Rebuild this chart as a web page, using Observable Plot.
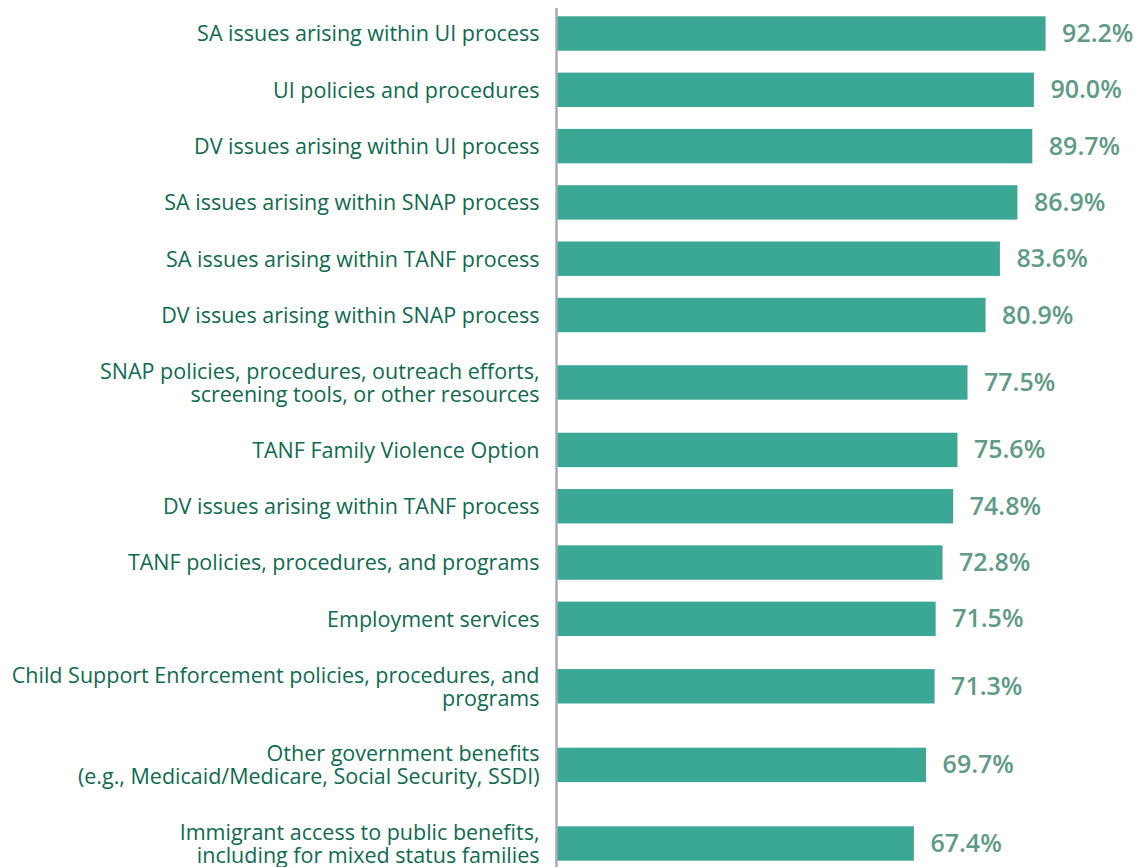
<!DOCTYPE html>
<html>
<head>
<meta charset="utf-8">
<script src="https://cdn.jsdelivr.net/npm/d3@7"></script>
<script src="https://cdn.jsdelivr.net/npm/@observablehq/plot@0.6"></script>
<style>
  html, body { margin: 0; padding: 0; background: #fff; }
  #chart { width: 1143px; height: 867px; }
</style>
</head>
<body>
<div id="chart"></div>
<script>
const categories = [
  "SA issues arising within UI process",
  "UI policies and procedures",
  "DV issues arising within UI process",
  "SA issues arising within SNAP process",
  "SA issues arising within TANF process",
  "DV issues arising within SNAP process",
  "SNAP policies, procedures, outreach efforts,\nscreening tools, or other resources",
  "TANF Family Violence Option",
  "DV issues arising within TANF process",
  "TANF policies, procedures, and programs",
  "Employment services",
  "Child Support Enforcement policies, procedures, and\nprograms",
  "Other government benefits\n(e.g., Medicaid/Medicare, Social Security, SSDI)",
  "Immigrant access to public benefits,\nincluding for mixed status families"
];
const values = [92.2, 90.0, 89.7, 86.9, 83.6, 80.9, 77.5, 75.6, 74.8, 72.8, 71.5, 71.3, 69.7, 67.4];

// Layout: row spacing grows with the number of label lines
const lines = categories.map(c => c.split("\n").length);
const pos = [0];
for (let i = 1; i < categories.length; i++) {
  pos.push(pos[i - 1] + 34 + 11.15 * (lines[i - 1] + lines[i]));
}
const data = categories.map((c, i) => ({label: c, value: values[i], pos: pos[i]}));
const half = 17.2;

const chart = Plot.plot({
  width: 1143,
  height: 867,
  marginLeft: 556,
  marginRight: 56,
  marginTop: 8,
  marginBottom: 0,
  style: {fontFamily: "'Open Sans', sans-serif", background: "#fff"},
  x: {domain: [0, 100], axis: null},
  y: {domain: [-25.5, pos[pos.length - 1] + 23.5], reverse: true, axis: null},
  marks: [
    Plot.rectX(data, {x1: 0, x2: "value", y1: d => d.pos - half, y2: d => d.pos + half, fill: "#3aa895"}),
    Plot.ruleX([0], {stroke: "#aaaaaa", strokeWidth: 2.5}),
    Plot.text(data, {x: 0, y: "pos", text: "label", textAnchor: "end", dx: -17, fontSize: 21.5, lineHeight: 1.08, fill: "#0e6b4f"}),
    Plot.text(data, {x: "value", y: "pos", text: d => d.value.toFixed(1) + "%", textAnchor: "start", dx: 16, fontSize: 25, fontWeight: 600, fill: "#5f9b86"})
  ]
});
document.getElementById("chart").appendChild(chart);
</script>
</body>
</html>
